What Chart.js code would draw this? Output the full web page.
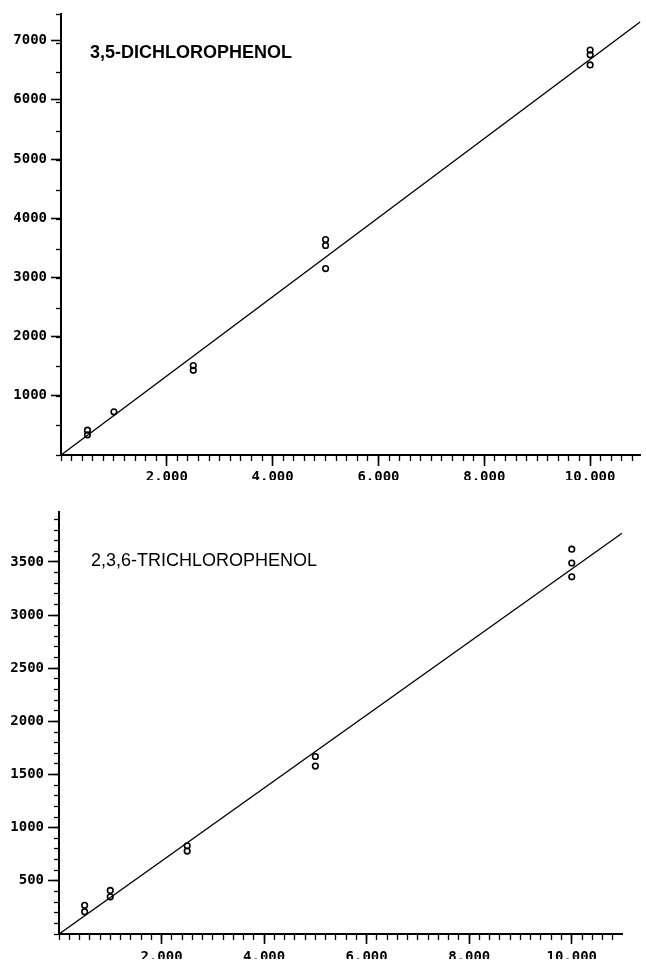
<!DOCTYPE html>
<html><head><meta charset="utf-8">
<script src="https://cdn.jsdelivr.net/npm/chart.js@4.4.1/dist/chart.umd.min.js"></script>
<style>
html,body{margin:0;padding:0;background:#fff;width:646px;height:965px;overflow:hidden}
canvas{position:absolute;left:0}
#c1{top:0}
#c2{top:480px}
</style></head>
<body>
<canvas id="c1" width="646" height="480"></canvas>
<canvas id="c2" width="646" height="485"></canvas>
<script>
// ---- shared x-axis tick labels ----
const xMajorTicks = [2, 4, 6, 8, 10];
const xTickLabels = ['2.000', '4.000', '6.000', '8.000', '10.000'];

// ---- 3,5-DICHLOROPHENOL ----
const dcpName = '3,5-DICHLOROPHENOL';
const dcpX = [0.5, 0.5, 1, 2.5, 2.5, 5, 5, 5, 10, 10, 10];
const dcpY = [420, 340, 730, 1510, 1430, 3640, 3540, 3150, 6840, 6760, 6590];
const dcpFitX = [0, 10.95];
const dcpFitY = [0, 7320];
const dcpYTicks = [1000, 2000, 3000, 4000, 5000, 6000, 7000];
const dcpYLabels = ['1000', '2000', '3000', '4000', '5000', '6000', '7000'];

// ---- 2,3,6-TRICHLOROPHENOL ----
const tcpName = '2,3,6-TRICHLOROPHENOL';
const tcpX = [0.5, 0.5, 1, 1, 2.5, 2.5, 5, 5, 10, 10, 10];
const tcpY = [270, 210, 410, 350, 830, 780, 1670, 1580, 3620, 3490, 3360];
const tcpFitX = [0, 10.98];
const tcpFitY = [0, 3770];
const tcpYTicks = [500, 1000, 1500, 2000, 2500, 3000, 3500];
const tcpYLabels = ['500', '1000', '1500', '2000', '2500', '3000', '3500'];

const pts = (xs, ys) => xs.map((x, i) => ({x: x, y: ys[i]}));
const tickFont = {family: "'DejaVu Sans Mono', 'Liberation Mono', monospace", size: 14, weight: 'bold'};

const innerTitle = {
  id: 'innerTitle',
  afterDraw(chart, args, opts) {
    const ctx = chart.ctx;
    ctx.save();
    ctx.font = opts.font;
    ctx.fillStyle = '#000';
    ctx.textBaseline = 'alphabetic';
    ctx.textAlign = 'left';
    ctx.fillText(opts.text, chart.chartArea.left + opts.dx, chart.chartArea.top + opts.dy);
    ctx.restore();
  }
};

function build(id, o) {
  return new Chart(document.getElementById(id), {
    type: 'scatter',
    data: {
      datasets: [
        {
          type: 'line',
          data: pts(o.fitX, o.fitY),
          borderColor: '#000',
          borderWidth: 1.4,
          pointRadius: 0,
          fill: false,
          tension: 0
        },
        {
          data: pts(o.xs, o.ys),
          pointStyle: 'circle',
          pointRadius: 2.8,
          pointBorderWidth: 1.6,
          pointBorderColor: '#000',
          pointBackgroundColor: 'rgba(255,255,255,0)'
        }
      ]
    },
    options: {
      responsive: false,
      devicePixelRatio: 1,
      animation: false,
      events: [],
      layout: {padding: o.pad},
      plugins: {
        legend: {display: false},
        tooltip: {enabled: false},
        innerTitle: {text: o.name, font: o.titleFont, dx: o.titleDx, dy: o.titleDy}
      },
      scales: {
        x: {
          type: 'linear', position: 'bottom', min: 0, max: o.xMax,
          afterFit: s => { s.height = 0; },
          ticks: {display: false, stepSize: 0.2, includeBounds: false, autoSkip: false},
          grid: {drawOnChartArea: false, tickLength: o.xMinorLen, color: '#000', tickWidth: 1.3},
          border: {display: true, color: '#000', width: 2}
        },
        xMajor: {
          type: 'linear', position: 'bottom', min: 0, max: o.xMax,
          afterFit: s => { s.height = o.xAxisH; },
          afterBuildTicks: s => { s.ticks = xMajorTicks.map(v => ({value: v})); },
          ticks: {
            display: true, autoSkip: false, maxRotation: 0, minRotation: 0,
            padding: o.xPad, font: tickFont, color: '#000',
            callback: (v, i) => xTickLabels[i]
          },
          grid: {drawOnChartArea: false, tickLength: o.xMajorLen, color: '#000', tickWidth: 1.6},
          border: {display: false}
        },
        y: {
          type: 'linear', position: 'left', min: 0, max: o.yMax,
          afterFit: s => { s.width = 0; },
          ticks: {display: false, stepSize: o.yMinorStep, includeBounds: false, autoSkip: false},
          grid: {drawOnChartArea: false, tickLength: o.yMinorLen, color: '#000', tickWidth: 1.3},
          border: {display: true, color: '#000', width: 2}
        },
        yMajor: {
          type: 'linear', position: 'left', min: 0, max: o.yMax,
          afterFit: s => { s.width = o.yAxisW; },
          afterBuildTicks: s => { s.ticks = o.yTicks.map(v => ({value: v})); },
          ticks: {
            display: true, autoSkip: false, padding: 4, font: tickFont, color: '#000',
            callback: (v, i) => o.yLabels[i]
          },
          grid: {drawOnChartArea: false, tickLength: o.yMajorLen, color: '#000', tickWidth: 1.6},
          border: {display: false}
        }
      }
    },
    plugins: [innerTitle]
  });
}

build('c1', {
  name: dcpName, xs: dcpX, ys: dcpY, fitX: dcpFitX, fitY: dcpFitY,
  yTicks: dcpYTicks, yLabels: dcpYLabels, yMax: 7450, yMinorStep: 500, xMax: 10.95,
  pad: {left: 0, right: 1, top: 14, bottom: 0},
  yAxisW: 61, xAxisH: 25, yMajorLen: 10, yMinorLen: 5, xMajorLen: 11, xMinorLen: 6, xPad: 3,
  titleFont: "bold 18px 'Liberation Sans', Arial, sans-serif", titleDx: 29, titleDy: 44
});

build('c2', {
  name: tcpName, xs: tcpX, ys: tcpY, fitX: tcpFitX, fitY: tcpFitY,
  yTicks: tcpYTicks, yLabels: tcpYLabels, yMax: 3970, yMinorStep: 100, xMax: 10.98,
  pad: {left: 0, right: 24, top: 32, bottom: 6},
  yAxisW: 59, xAxisH: 25, yMajorLen: 11, yMinorLen: 5, xMajorLen: 10, xMinorLen: 6, xPad: 5,
  titleFont: "18px 'Liberation Sans', Arial, sans-serif", titleDx: 32, titleDy: 54
});
</script>
</body></html>
